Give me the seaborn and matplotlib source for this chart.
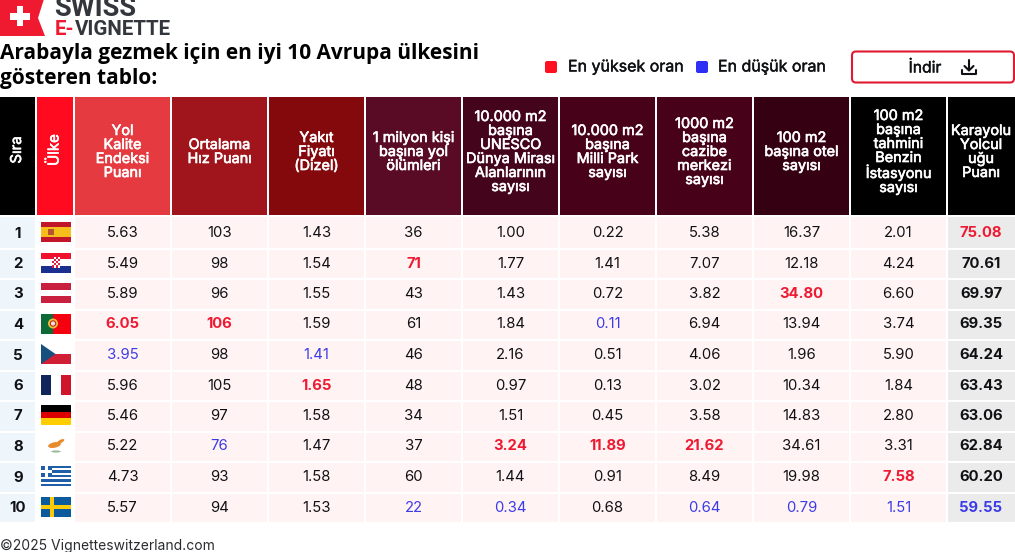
import matplotlib
matplotlib.use("Agg")
import matplotlib.pyplot as plt
import matplotlib.patheffects as pe
import numpy as np
import seaborn as sns
from matplotlib.colors import ListedColormap
from matplotlib.patches import Circle, Ellipse, FancyBboxPatch, Polygon, Rectangle

W, H = 1015, 552

ranks = list(range(1, 11))
flags = ["spain", "croatia", "austria", "portugal", "czech", "france", "germany", "cyprus", "greece", "sweden"]

headers = [
    "Yol\nKalite\nEndeksi\nPuanı",
    "Ortalama\nHız Puanı",
    "Yakıt\nFiyatı\n(Dizel)",
    "1 milyon kişi\nbaşına yol\nölümleri",
    "10.000 m2\nbaşına\nUNESCO\nDünya Mirası\nAlanlarının\nsayısı",
    "10.000 m2\nbaşına\nMilli Park\nsayısı",
    "1000 m2\nbaşına\ncazibe\nmerkezi\nsayısı",
    "100 m2\nbaşına otel\nsayısı",
    "100 m2\nbaşına\ntahmini\nBenzin\nİstasyonu\nsayısı",
]
score_header = "Karayolu\nYolcul\nuğu\nPuanı"
header_colors = ["#E53A3F", "#A0151C", "#84090D", "#590B25", "#44041B", "#470119", "#470119", "#350112", "#000000"]

road_quality = [5.63, 5.49, 5.89, 6.05, 3.95, 5.96, 5.46, 5.22, 4.73, 5.57]
avg_speed = [103, 98, 96, 106, 98, 105, 97, 76, 93, 94]
fuel_price = [1.43, 1.54, 1.55, 1.59, 1.41, 1.65, 1.58, 1.47, 1.58, 1.53]
road_deaths = [36, 71, 43, 61, 46, 48, 34, 37, 60, 22]
unesco = [1.00, 1.77, 1.43, 1.84, 2.16, 0.97, 1.51, 3.24, 1.44, 0.34]
parks = [0.22, 1.41, 0.72, 0.11, 0.51, 0.13, 0.45, 11.89, 0.91, 0.68]
attractions = [5.38, 7.07, 3.82, 6.94, 4.06, 3.02, 3.58, 21.62, 8.49, 0.64]
hotels = [16.37, 12.18, 34.80, 13.94, 1.96, 10.34, 14.83, 34.61, 19.98, 0.79]
stations = [2.01, 4.24, 6.60, 3.74, 5.90, 1.84, 2.80, 3.31, 7.58, 1.51]
score = [75.08, 70.61, 69.97, 69.35, 64.24, 63.43, 63.06, 62.84, 60.20, 59.55]

value_columns = [road_quality, avg_speed, fuel_price, road_deaths, unesco, parks, attractions, hotels, stations]
integer_columns = [1, 3]

RED = "#EE1A32"
BLUE = "#3C3CE6"
DARK = "#101114"

sns.set_theme(style="white")
plt.rcParams["font.family"] = ["Inter", "DejaVu Sans"]

fig = plt.figure(figsize=(W / 100, H / 100), dpi=100, facecolor="white")


def pixel_axes(x0, y0, x1, y1, zorder=1):
    return fig.add_axes([x0 / W, 1 - y1 / H, (x1 - x0) / W, (y1 - y0) / H], zorder=zorder)


def cell_grid(x0, y0, x1, y1, colors):
    """One heatmap, every cell with its own colour, white gaps between."""
    colors = np.array(colors)
    names, codes = np.unique(colors, return_inverse=True)
    codes = codes.reshape(colors.shape)
    ax = pixel_axes(x0, y0, x1, y1)
    sns.heatmap(codes, ax=ax, cmap=ListedColormap(list(names)), vmin=0, vmax=max(len(names) - 1, 1),
                cbar=False, xticklabels=False, yticklabels=False, linewidths=1.44, linecolor="white")
    return ax


# x edges of the three column groups
rank_x = (-2, 74)
values_x = (74, 947)
score_x = (947, 1018)
header_y = (96, 216)
# first row is a bit taller in the reference
row_slices = [(216, 249, 1), (249, 523, 9)]

cell_grid(rank_x[0], header_y[0], rank_x[1], header_y[1], [["#000000", "#FF0A1F"]])
cell_grid(values_x[0], header_y[0], values_x[1], header_y[1], [header_colors])
cell_grid(score_x[0], header_y[0], score_x[1], header_y[1], [["#000000"]])

for y0, y1, n in row_slices:
    cell_grid(rank_x[0], y0, rank_x[1], y1, [["#EFF6FB", "#FFFFFF"]] * n)
    cell_grid(values_x[0], y0, values_x[1], y1, [["#FFF3F4"] * 9] * n)
    cell_grid(score_x[0], y0, score_x[1], y1, [["#EBEBEB"]] * n)

# overlay in pixel coordinates for all the text
ov = fig.add_axes([0, 0, 1, 1], zorder=5)
ov.set_xlim(0, W)
ov.set_ylim(H, 0)
ov.axis("off")
ov.patch.set_alpha(0)

col_x = [122.5 + 97 * i for i in range(9)]
score_cx = 981
row_y = [233 + 30.5 * i for i in range(10)]
flag_y = [232 + 30.5 * i for i in range(10)]

# fake a medium weight, the installed Inter only comes in a few weights
thick_white = [pe.withStroke(linewidth=0.45, foreground="white")]
thick_dark = [pe.withStroke(linewidth=0.3, foreground=DARK)]

# header text
for x, label in [(17, "Sıra"), (54.5, "Ülke")]:
    ov.text(x, 150, label, color="white", rotation=90, ha="center", va="center", fontsize=10.8,
            path_effects=thick_white)
for x, label in zip(col_x + [score_cx], headers + [score_header]):
    ov.text(x, 152, label, color="white", ha="center", va="center", fontsize=10.4, linespacing=1.0,
            path_effects=thick_white)

# body text
for y, r in zip(row_y, ranks):
    ov.text(18, y + 0.5, str(r), color=DARK, ha="center", va="center", fontsize=10.8, fontweight="bold")

for j, column in enumerate(value_columns):
    hi, lo = int(np.argmax(column)), int(np.argmin(column))
    for i, v in enumerate(column):
        label = str(v) if j in integer_columns else f"{v:.2f}"
        color = RED if i == hi else BLUE if i == lo else DARK
        ov.text(col_x[j], row_y[i], label, color=color, ha="center", va="center", fontsize=10.7,
                fontweight="bold" if i == hi else "normal")

hi, lo = int(np.argmax(score)), int(np.argmin(score))
for i, v in enumerate(score):
    color = RED if i == hi else BLUE if i == lo else DARK
    ov.text(score_cx, row_y[i], f"{v:.2f}", color=color, ha="center", va="center", fontsize=10.7, fontweight="bold")


def stripes(ax, colors):
    n = len(colors)
    for k, c in enumerate(colors):
        ax.add_patch(Rectangle((0, k * 2 / n), 3, 2 / n, color=c, lw=0))


def draw_flag(name, cy):
    ax = pixel_axes(41, cy - 10, 71, cy + 10, zorder=6)
    ax.set_xlim(0, 3)
    ax.set_ylim(2, 0)
    ax.axis("off")
    if name == "spain":
        ax.add_patch(Rectangle((0, 0), 3, 2, color="#C0152A", lw=0))
        ax.add_patch(Rectangle((0, 0.5), 3, 1, color="#F5BE1A", lw=0))
        ax.add_patch(Rectangle((0.7, 0.72), 0.55, 0.55, color="#B5562A", lw=0))
    elif name == "croatia":
        stripes(ax, ["#F0122D", "#FFFFFF", "#1A2F8F"])
        ax.add_patch(Rectangle((1.1, 0.45), 0.8, 1.05, color="#FFFFFF", lw=0))
        for a in range(4):
            for b in range(5):
                if (a + b) % 2 == 0:
                    ax.add_patch(Rectangle((1.1 + a * 0.2, 0.45 + b * 0.21), 0.2, 0.21, color="#D92040", lw=0))
    elif name == "austria":
        stripes(ax, ["#C9203F", "#FFFFFF", "#C9203F"])
    elif name == "portugal":
        ax.add_patch(Rectangle((0, 0), 3, 2, color="#F5000F", lw=0))
        ax.add_patch(Rectangle((0, 0), 1.2, 2, color="#0B6A36", lw=0))
        ax.add_patch(Circle((1.2, 1), 0.5, fc="#E8C33A", ec="none"))
        ax.add_patch(Circle((1.2, 1), 0.27, fc="#E9E0DC", ec="#C8281E", lw=0.8))
    elif name == "czech":
        stripes(ax, ["#FFFFFF", "#CF2036"])
        ax.add_patch(Polygon([(0, 0), (1.45, 1), (0, 2)], color="#17507F", lw=0))
    elif name == "france":
        ax.add_patch(Rectangle((0, 0), 1, 2, color="#10255A", lw=0))
        ax.add_patch(Rectangle((2, 0), 1, 2, color="#CF142B", lw=0))
    elif name == "germany":
        stripes(ax, ["#000000", "#DD0000", "#FFCE00"])
    elif name == "cyprus":
        ax.add_patch(Ellipse((1.35, 0.95), 1.3, 0.55, angle=-12, color="#E88B2E", lw=0))
        ax.add_patch(Ellipse((1.95, 0.6), 0.85, 0.32, angle=-28, color="#E88B2E", lw=0))
        ax.add_patch(Ellipse((1.5, 1.6), 0.95, 0.22, color="#9DBB9A", lw=0))
    elif name == "greece":
        stripes(ax, ["#1F5FA8", "#FFFFFF"] * 4 + ["#1F5FA8"])
        ax.add_patch(Rectangle((0, 0), 1.1, 1.1, color="#1F5FA8", lw=0))
        ax.add_patch(Rectangle((0.44, 0), 0.22, 1.1, color="#FFFFFF", lw=0))
        ax.add_patch(Rectangle((0, 0.44), 1.1, 0.22, color="#FFFFFF", lw=0))
    elif name == "sweden":
        ax.add_patch(Rectangle((0, 0), 3, 2, color="#0B5A9C", lw=0))
        ax.add_patch(Rectangle((0.85, 0), 0.4, 2, color="#FBCB0A", lw=0))
        ax.add_patch(Rectangle((0, 0.8), 3, 0.4, color="#FBCB0A", lw=0))


for name, y in zip(flags, flag_y):
    draw_flag(name, y)

# logo
ov.add_patch(Polygon([(0, -1), (44, -1), (38, 18), (45, 36), (0, 36)], color="#F01A30", lw=0))
ov.add_patch(Rectangle((10, 13), 20, 6.5, color="white", lw=0))
ov.add_patch(Rectangle((16.7, 6), 6.5, 20, color="white", lw=0))
ov.text(54, 15.5, "SWISS", family="Roboto", fontweight="bold", fontsize=19.6, color="#33363C", va="baseline")
ov.text(55, 35, "E-", family="Roboto", fontweight="bold", fontsize=14.8, color="#F01A30", va="baseline")
ov.text(74.5, 35, "VIGNETTE", family="Roboto", fontweight="bold", fontsize=14.8, color="#33363C", va="baseline")

# title
ov.text(0, 53.5, "Arabayla gezmek için en iyi 10 Avrupa ülkesini", family="Open Sans", fontweight="bold",
        fontsize=15, color="black", va="center")
ov.text(0, 78.5, "gösteren tablo:", family="Open Sans", fontweight="bold", fontsize=15, color="black", va="center")

# legend
ov.add_patch(FancyBboxPatch((546, 62), 10, 10, boxstyle="round,pad=1,rounding_size=2", fc="#FF1020", ec="none"))
ov.text(568, 67, "En yüksek oran", fontsize=11.5, color=DARK, va="center", path_effects=thick_dark)
ov.add_patch(FancyBboxPatch((697, 62), 10, 10, boxstyle="round,pad=1,rounding_size=2", fc="#2F30F5", ec="none"))
ov.text(718, 67, "En düşük oran", fontsize=11.5, color=DARK, va="center", path_effects=thick_dark)

# download button
ov.add_patch(FancyBboxPatch((852, 51.5), 162, 31, boxstyle="round,pad=0,rounding_size=4", fc="white", ec="#DF1B30", lw=1.5))
ov.text(925, 68, "İndir", fontsize=11.3, color=DARK, ha="center", va="center", path_effects=thick_dark)
ov.plot([969, 969], [60, 70], color=DARK, lw=1.5, solid_capstyle="round")
ov.plot([964.5, 969, 973.5], [66, 70.5, 66], color=DARK, lw=1.5)
ov.plot([962, 962, 976, 976], [70, 74, 74, 70], color=DARK, lw=1.5)

# footer
ov.text(0, 546, "©2025 Vignetteswitzerland.com", fontsize=10, color="#2A2C30", va="center")

fig.savefig("out.png", dpi=100, facecolor="white")
